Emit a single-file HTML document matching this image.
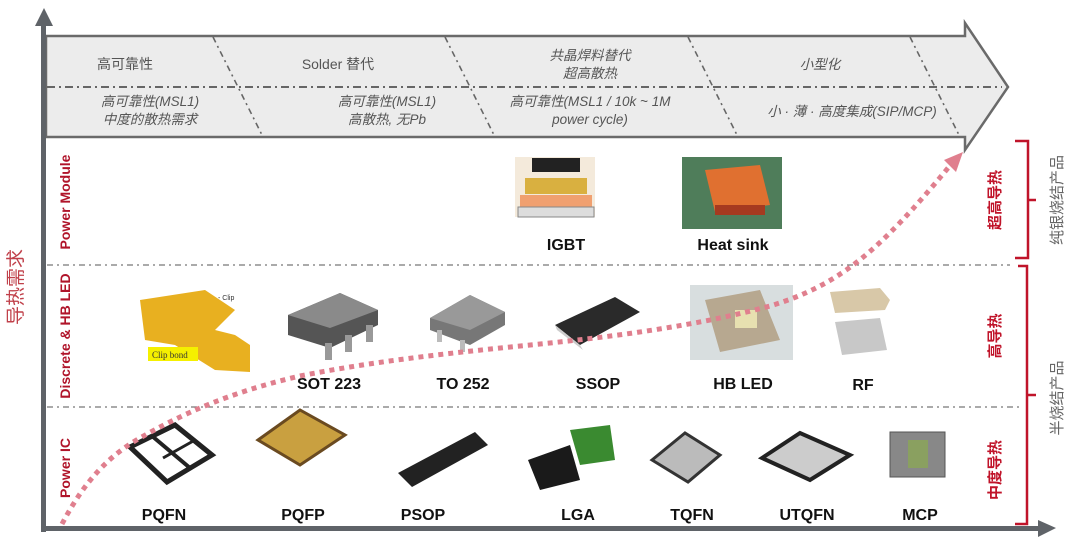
<!DOCTYPE html>
<html><head><meta charset="utf-8"><style>
html,body{margin:0;padding:0;background:#fff;}
svg{display:block;}
text{font-family:"Liberation Sans","Noto Sans CJK SC",sans-serif;}
.hd{font-size:14px;fill:#555;}
.it{font-size:13.5px;fill:#555;font-style:italic;}
.lb{font-size:16px;font-weight:bold;fill:#111;}
.rl{font-size:14px;font-weight:bold;fill:#b0142a;}
.rr{font-size:15px;font-weight:bold;fill:#c0142a;}
.gr{font-size:15px;fill:#666;}
</style></head><body>
<svg width="1080" height="546" viewBox="0 0 1080 546" xmlns="http://www.w3.org/2000/svg">
<polygon points="46,36 965,36 965,23 1008,87 965,150 965,137 46,137" fill="#ececec" stroke="#6a6a6a" stroke-width="2.5"/>
<line x1="47" y1="87" x2="1002" y2="87" stroke="#666" stroke-width="2" stroke-dasharray="8,4,2,4"/>
<g stroke="#666" stroke-width="1.6" stroke-dasharray="6,4,2,4">
<line x1="213" y1="37" x2="263" y2="137"/>
<line x1="445" y1="37" x2="495" y2="137"/>
<line x1="688" y1="37" x2="738" y2="137"/>
<line x1="910" y1="37" x2="960" y2="137"/>
</g>
<text class="hd" x="125" y="69" text-anchor="middle">高可靠性</text>
<text class="hd" x="338" y="69" text-anchor="middle">Solder 替代</text>
<text class="it" x="590" y="60" text-anchor="middle">共晶焊料替代</text>
<text class="it" x="590" y="78" text-anchor="middle">超高散热</text>
<text class="it" x="820" y="69" text-anchor="middle">小型化</text>
<text class="it" x="150" y="106" text-anchor="middle">高可靠性(MSL1)</text>
<text class="it" x="150" y="124" text-anchor="middle">中度的散热需求</text>
<text class="it" x="387" y="106" text-anchor="middle">高可靠性(MSL1)</text>
<text class="it" x="387" y="124" text-anchor="middle">高散热, 无Pb</text>
<text class="it" x="590" y="106" text-anchor="middle">高可靠性(MSL1 / 10k ~ 1M</text>
<text class="it" x="590" y="124" text-anchor="middle">power cycle)</text>
<text class="it" x="852" y="116" text-anchor="middle">小 · 薄 · 高度集成(SIP/MCP)</text>

<rect x="41" y="24" width="5" height="508" fill="#5f6368"/>
<polygon points="35,26 53,26 44,8" fill="#5f6368"/>
<rect x="41" y="526" width="1000" height="5" fill="#5f6368"/>
<polygon points="1038,520 1038,537 1056,528" fill="#5f6368"/>

<g stroke="#777" stroke-width="1.3" stroke-dasharray="6,4,2,4">
<line x1="47" y1="265" x2="1010" y2="265"/>
<line x1="47" y1="407" x2="1020" y2="407"/>
</g>

<text x="22" y="287" transform="rotate(-90 22 287)" text-anchor="middle" style="font-size:19px;fill:#c0404a;">导热需求</text>
<text class="rl" x="70" y="202" transform="rotate(-90 70 202)" text-anchor="middle">Power Module</text>
<text class="rl" x="70" y="336" transform="rotate(-90 70 336)" text-anchor="middle">Discrete &amp; HB LED</text>
<text class="rl" x="70" y="468" transform="rotate(-90 70 468)" text-anchor="middle">Power IC</text>

<text class="rr" x="1000" y="200" transform="rotate(-90 1000 200)" text-anchor="middle">超高导热</text>
<text class="rr" x="1000" y="336" transform="rotate(-90 1000 336)" text-anchor="middle">高导热</text>
<text class="rr" x="1000" y="470" transform="rotate(-90 1000 470)" text-anchor="middle">中度导热</text>
<g fill="none" stroke="#c0142a" stroke-width="2.5">
<path d="M1015,141 L1028,141 L1028,258 L1015,258"/>
<path d="M1028,200 L1036,200"/>
<path d="M1018,266 L1027,266 L1027,524 L1015,524"/>
<path d="M1027,395 L1036,395"/>
</g>
<text class="gr" x="1062" y="200" transform="rotate(-90 1062 200)" text-anchor="middle">纯银烧结产品</text>
<text class="gr" x="1062" y="398" transform="rotate(-90 1062 398)" text-anchor="middle">半烧结产品</text>

<!-- IGBT -->
<rect x="515" y="157" width="80" height="60" fill="#f4eadb"/>
<rect x="532" y="158" width="48" height="14" fill="#222"/>
<rect x="525" y="178" width="62" height="16" fill="#d9b040"/>
<rect x="520" y="195" width="72" height="12" fill="#f0a070"/>
<rect x="518" y="207" width="76" height="10" fill="#ddd" stroke="#888"/>
<!-- Heat sink -->
<rect x="682" y="157" width="100" height="72" fill="#4f7d5a"/>
<polygon points="705,170 760,165 770,205 715,212" fill="#e07030"/>
<rect x="715" y="205" width="50" height="10" fill="#a53a20"/>
<!-- Clip bond -->
<polygon points="140,300 205,290 235,310 215,330 235,335 250,345 250,372 215,370 175,345 145,340" fill="#e8b020"/>
<rect x="148" y="347" width="50" height="14" fill="#f5f000"/>
<text x="152" y="358" style="font-size:9px;font-family:'Liberation Serif',serif;fill:#333">Clip bond</text>
<text x="218" y="300" style="font-size:7px;fill:#333">- Clip</text>
<!-- SOT223 -->
<polygon points="288,315 340,293 378,310 378,325 330,348 288,335" fill="#555"/>
<polygon points="288,315 340,293 378,310 330,328" fill="#8a8a8a"/>
<g fill="#999"><rect x="325" y="343" width="7" height="17"/><rect x="345" y="335" width="7" height="17"/><rect x="366" y="325" width="7" height="17"/></g>
<!-- TO252 -->
<polygon points="430,318 470,295 505,312 505,325 470,345 430,330" fill="#777"/>
<polygon points="430,318 470,295 505,312 470,330" fill="#999"/>
<g fill="#bbb"><rect x="437" y="330" width="5" height="12"/><rect x="460" y="340" width="5" height="12"/></g>
<!-- SSOP -->
<polygon points="555,325 615,297 640,312 580,345" fill="#2a2a2a"/>
<polygon points="555,325 580,345 583,350 557,330" fill="#ccc"/>
<!-- HB LED -->
<rect x="690" y="285" width="103" height="75" fill="#d8dedf"/>
<polygon points="705,300 760,290 780,340 720,352" fill="#b7a890"/>
<rect x="735" y="310" width="22" height="18" fill="#e7e0b0"/>
<!-- RF -->
<polygon points="830,292 880,288 890,300 885,310 835,313" fill="#d8c8a8"/>
<polygon points="835,322 880,318 887,350 842,355" fill="#c8c8c8"/>
<!-- PQFN -->
<polygon points="130,447 175,425 212,455 167,482" fill="#fff" stroke="#222" stroke-width="5"/>
<line x1="152" y1="436" x2="190" y2="468" stroke="#222" stroke-width="4"/>
<line x1="163" y1="458" x2="195" y2="440" stroke="#222" stroke-width="3"/>
<!-- PQFP -->
<polygon points="258,440 300,410 345,435 300,465" fill="#c9a040" stroke="#6a4a20" stroke-width="3"/>
<!-- PSOP -->
<polygon points="398,473 475,432 488,445 412,487" fill="#222"/>
<!-- LGA -->
<polygon points="528,460 570,445 580,480 540,490" fill="#1a1a1a"/>
<polygon points="570,430 610,425 615,460 580,465" fill="#3a8a30"/>
<!-- TQFN -->
<polygon points="652,460 685,433 720,455 688,482" fill="#bbb" stroke="#333" stroke-width="3"/>
<!-- UTQFN -->
<polygon points="762,458 800,433 850,455 810,480" fill="#ccc" stroke="#222" stroke-width="4"/>
<!-- MCP -->
<rect x="890" y="432" width="55" height="45" fill="#888" stroke="#555"/>
<rect x="908" y="440" width="20" height="28" fill="#8aa060"/>

<g text-anchor="middle">
<text class="lb" x="566" y="250">IGBT</text>
<text class="lb" x="733" y="250">Heat sink</text>
<text class="lb" x="329" y="389">SOT 223</text>
<text class="lb" x="463" y="389">TO 252</text>
<text class="lb" x="598" y="389">SSOP</text>
<text class="lb" x="743" y="389">HB LED</text>
<text class="lb" x="863" y="390">RF</text>
<text class="lb" x="164" y="520">PQFN</text>
<text class="lb" x="303" y="520">PQFP</text>
<text class="lb" x="423" y="520">PSOP</text>
<text class="lb" x="578" y="520">LGA</text>
<text class="lb" x="692" y="520">TQFN</text>
<text class="lb" x="807" y="520">UTQFN</text>
<text class="lb" x="920" y="520">MCP</text>
</g>

<path d="M62,524 C85,480 110,455 140,438 C180,415 230,392 300,376 C380,360 460,352 540,344 C620,336 700,325 770,306 C840,285 880,250 948,168" fill="none" stroke="#e07f8e" stroke-width="5" stroke-dasharray="5,5"/>
<polygon points="963,152 944,160 956,172" fill="#e07f8e"/>
</svg>
</body></html>
